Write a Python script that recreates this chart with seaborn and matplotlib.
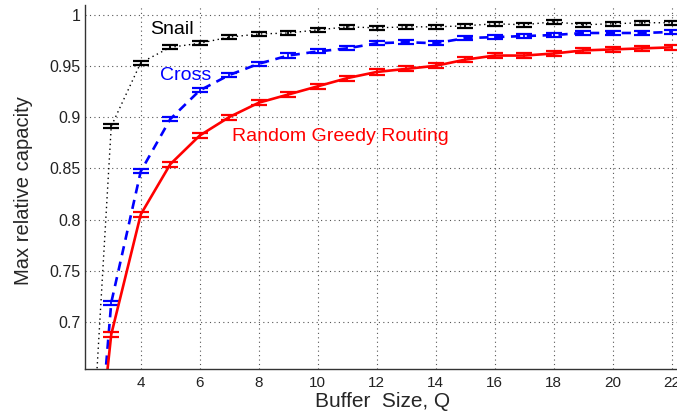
import numpy as np
import pandas as pd
import matplotlib
matplotlib.use("Agg")
import matplotlib.pyplot as plt
import seaborn as sns

# ---- data ----
buffer_q = [2, 3, 4, 5, 6, 7, 8, 9, 10, 11, 12, 13, 14, 15, 16, 17, 18, 19, 20, 21, 22]
snail = [0.40, 0.891, 0.953, 0.968, 0.972, 0.978, 0.981, 0.982, 0.985, 0.988, 0.987,
         0.988, 0.988, 0.989, 0.991, 0.990, 0.993, 0.990, 0.991, 0.992, 0.992]
cross = [0.37, 0.719, 0.847, 0.898, 0.926, 0.941, 0.952, 0.960, 0.964, 0.967, 0.972,
         0.973, 0.972, 0.977, 0.978, 0.979, 0.980, 0.982, 0.982, 0.982, 0.983]
rgr = [0.42, 0.688, 0.805, 0.854, 0.882, 0.900, 0.914, 0.922, 0.930, 0.938, 0.944,
       0.947, 0.950, 0.956, 0.960, 0.960, 0.962, 0.965, 0.966, 0.967, 0.968]
snail_err = [0.002] * len(buffer_q)
cross_err = [0.002] * len(buffer_q)
rgr_err = [0.0025] * len(buffer_q)
series_names = ["Snail", "Cross", "Random Greedy Routing"]
x_ticks = [4, 6, 8, 10, 12, 14, 16, 18, 20, 22]
y_ticks = [0.7, 0.75, 0.8, 0.85, 0.9, 0.95, 1.0]

sns.set_style("white")
plt.rcParams["font.family"] = ["Liberation Sans", "DejaVu Sans"]

fig = plt.figure(figsize=(6.77, 4.11), dpi=100)
ax = fig.add_axes([85 / 677, 42 / 411, 1 - 85 / 677, 364 / 411])

df = pd.DataFrame({"Q": buffer_q * 3,
                   "val": snail + cross + rgr,
                   "series": sum([[n] * len(buffer_q) for n in series_names], [])})
colors = {"Snail": "black", "Cross": "#0000ff", "Random Greedy Routing": "#ff0000"}
styles = {"Snail": (0, (1, 2.5)), "Cross": (0, (3.5, 2.5)), "Random Greedy Routing": "-"}
widths = {"Snail": 1.0, "Cross": 1.9, "Random Greedy Routing": 1.9}

for name, vals, err in zip(series_names, [snail, cross, rgr], [snail_err, cross_err, rgr_err]):
    sub = df[df.series == name]
    sns.lineplot(data=sub, x="Q", y="val", ax=ax, color=colors[name],
                 linestyle=styles[name], linewidth=widths[name], legend=False)
    ax.errorbar(buffer_q, vals, yerr=err, fmt="none", ecolor=colors[name],
                elinewidth=1.3, capsize=6, capthick=1.6)

ax.set_xlim(2.11, 22.18)
ax.set_ylim(0.6543, 1.0093)
ax.set_xticks(x_ticks)
ax.set_yticks(y_ticks)
ax.set_yticklabels([f"{v:g}" for v in y_ticks])
ax.grid(True, linestyle=(0, (1, 3)), color="#555555", linewidth=0.8)
ax.tick_params(direction="in", length=4, labelsize=11.5, colors="#222222")
ax.tick_params(axis="y", pad=3)
ax.tick_params(axis="x", pad=5, labelsize=11)
for s in ["top", "right"]:
    ax.spines[s].set_visible(False)
for s in ["left", "bottom"]:
    ax.spines[s].set_color("#333333")
    ax.spines[s].set_linewidth(1.0)

ax.set_xlabel("Buffer  Size, Q", fontsize=15)
ax.set_ylabel("Max relative capacity", fontsize=14.5)
ax.xaxis.set_label_coords(0.503, -0.063)
ax.yaxis.set_label_coords(-0.088, 0.49)

ax.text(4.32, 0.985, "Snail", color="black", fontsize=14, va="center", ha="left")
ax.text(4.65, 0.941, "Cross", color="#0000ff", fontsize=14, va="center", ha="left")
ax.text(7.1, 0.881, "Random Greedy Routing", color="#ff0000", fontsize=14, va="center", ha="left")

fig.savefig("out.png", dpi=100)
